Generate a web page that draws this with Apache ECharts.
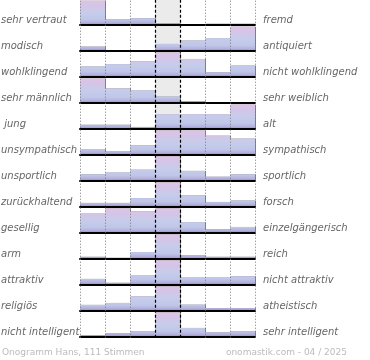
<!DOCTYPE html>
<html>
<head>
<meta charset="utf-8">
<script src="https://cdn.jsdelivr.net/npm/echarts@6/dist/echarts.min.js"></script>
<style>
html,body{margin:0;padding:0;background:#fff;}
#chart{width:370px;height:360px;}
</style>
</head>
<body>
<div id="chart"></div>
<script>
// ---- data ----
const columns = ['1', '2', '3', '4', '5', '6', '7'];
const leftLabels = ['sehr vertraut', 'modisch', 'wohlklingend', 'sehr männlich', ' jung', 'unsympathisch', 'unsportlich', 'zurückhaltend', 'gesellig', 'arm', 'attraktiv', 'religiös', 'nicht intelligent'];
const rightLabels = ['fremd', 'antiquiert', 'nicht wohlklingend', 'sehr weiblich', 'alt', 'sympathisch', 'sportlich', 'forsch', 'einzelgängerisch', 'reich', 'nicht attraktiv', 'atheistisch', 'sehr intelligent'];
const row01 = [1.00, 0.24, 0.28, 0.07, 0.01, 0.05, 0.05];
const row02 = [0.18, 0.00, 0.00, 0.29, 0.43, 0.53, 1.00];
const row03 = [0.43, 0.53, 0.65, 1.00, 0.74, 0.19, 0.47];
const row04 = [1.00, 0.60, 0.51, 0.26, 0.07, 0.02, 0.00];
const row05 = [0.17, 0.17, 0.08, 0.61, 0.61, 0.61, 1.00];
const row06 = [0.24, 0.14, 0.39, 1.00, 1.00, 0.79, 0.67];
const row07 = [0.27, 0.34, 0.46, 1.00, 0.41, 0.17, 0.27];
const row08 = [0.16, 0.16, 0.36, 1.00, 0.47, 0.20, 0.26];
const row09 = [0.79, 1.00, 0.88, 1.00, 0.44, 0.15, 0.24];
const row10 = [0.08, 0.04, 0.28, 1.00, 0.14, 0.08, 0.08];
const row11 = [0.24, 0.08, 0.40, 1.00, 0.32, 0.32, 0.35];
const row12 = [0.24, 0.32, 0.60, 1.00, 0.25, 0.11, 0.11];
const row13 = [0.06, 0.14, 0.22, 1.00, 0.36, 0.18, 0.22];
const rows = [row01, row02, row03, row04, row05, row06, row07, row08, row09, row10, row11, row12, row13];
const footerLeft = 'Onogramm Hans, 111 Stimmen';
const footerRight = 'onomastik.com - 04 / 2025';

// ---- layout / style ----
const PLOT_LEFT = 80, PLOT_W = 175;
const FIRST_BASE = 25, ROW_STEP = 25.975, BAR_H = 24.3;
const FONT = '"DejaVu Sans", Verdana, sans-serif';

const ramp = [
  [0.00, [152, 142, 198]],
  [0.10, [180, 178, 222]],
  [0.22, [192, 198, 232]],
  [0.50, [198, 204, 234]],
  [0.75, [210, 198, 232]],
  [1.00, [222, 194, 230]]
];
function colorAt(t) {
  for (let k = 1; k < ramp.length; k++) {
    if (t <= ramp[k][0]) {
      const a = ramp[k - 1], b = ramp[k];
      const f = (t - a[0]) / (b[0] - a[0]);
      const c = a[1].map((v, j) => Math.round(v + (b[1][j] - v) * f));
      return 'rgb(' + c.join(',') + ')';
    }
  }
  return 'rgb(' + ramp[ramp.length - 1][1].join(',') + ')';
}
function barColor(v) {
  if (v <= 0) return 'rgba(0,0,0,0)';
  const stops = [{ offset: 0, color: colorAt(v) }];
  for (let k = ramp.length - 1; k >= 0; k--) {
    const t = ramp[k][0];
    if (t < v) stops.push({ offset: 1 - t / v, color: colorAt(t) });
  }
  return new echarts.graphic.LinearGradient(0, 0, 0, 1, stops);
}

const grid = [], xAxis = [], yAxis = [], series = [], graphic = [];
rows.forEach((vals, i) => {
  const base = FIRST_BASE + ROW_STEP * i;
  grid.push({ left: PLOT_LEFT, width: PLOT_W, top: base - BAR_H, height: BAR_H });
  xAxis.push({
    type: 'category', gridIndex: i, data: columns, z: 6,
    axisLine: { show: true, lineStyle: { color: '#000', width: 2 } },
    axisTick: { show: false }, axisLabel: { show: false }, splitLine: { show: false }
  });
  yAxis.push({ type: 'value', gridIndex: i, min: 0, max: 1, show: false });
  series.push({
    type: 'bar', xAxisIndex: i, yAxisIndex: i, z: 2,
    barWidth: '100%', barCategoryGap: '0%',
    data: vals.map(v => ({
      value: v,
      itemStyle: {
        color: barColor(v),
        shadowColor: v > 0 ? 'rgba(90,90,90,0.75)' : 'rgba(0,0,0,0)',
        shadowOffsetX: 1, shadowOffsetY: 0, shadowBlur: 0
      }
    })),
    silent: true
  });
  graphic.push({
    type: 'text', x: 1, y: base - 4.5, silent: true,
    style: { text: leftLabels[i], fontFamily: FONT, fontSize: 10, fontStyle: 'italic', fill: '#666', align: 'left', verticalAlign: 'middle' }
  });
  graphic.push({
    type: 'text', x: 263, y: base - 4.5, silent: true,
    style: { text: rightLabels[i], fontFamily: FONT, fontSize: 10, fontStyle: 'italic', fill: '#666', align: 'left', verticalAlign: 'middle' }
  });
});

// full-height grid for the centre band and the vertical guide lines
const full = rows.length;
const lastBase = FIRST_BASE + ROW_STEP * (rows.length - 1);
grid.push({ left: PLOT_LEFT, width: PLOT_W, top: 0, height: lastBase + 1 });
xAxis.push({ type: 'value', gridIndex: full, min: 0, max: columns.length, show: false });
yAxis.push({ type: 'value', gridIndex: full, min: 0, max: 1, show: false });
const dotted = { color: '#777', width: 1, type: [1, 2] };
const dashed = { color: '#000', width: 1.2, type: [3, 2] };
series.push({
  type: 'line', xAxisIndex: full, yAxisIndex: full, data: [], z: 0, silent: true,
  markArea: { silent: true, z: 1, itemStyle: { color: '#ebebeb' }, data: [[{ xAxis: 3 }, { xAxis: 4 }]] }
});
series.push({
  type: 'line', xAxisIndex: full, yAxisIndex: full, data: [], z: 10, silent: true,
  markLine: {
    silent: true, z: 10, symbol: ['none', 'none'], label: { show: false },
    data: [
      { xAxis: 0, lineStyle: dotted }, { xAxis: 1, lineStyle: dotted }, { xAxis: 2, lineStyle: dotted },
      { xAxis: 3, lineStyle: dashed }, { xAxis: 4, lineStyle: dashed },
      { xAxis: 5, lineStyle: dotted }, { xAxis: 6, lineStyle: dotted }, { xAxis: 7, lineStyle: dotted }
    ]
  }
});

graphic.push({
  type: 'text', x: 2, y: 353, silent: true,
  style: { text: footerLeft, fontFamily: FONT, fontSize: 9, fill: '#bbb', align: 'left', verticalAlign: 'middle' }
});
graphic.push({
  type: 'text', x: 347, y: 353, silent: true,
  style: { text: footerRight, fontFamily: FONT, fontSize: 9, fill: '#bbb', align: 'right', verticalAlign: 'middle' }
});

const chart = echarts.init(document.getElementById('chart'), null, { renderer: 'canvas' });
chart.setOption({
  animation: false,
  backgroundColor: '#fff',
  grid, xAxis, yAxis, series, graphic
});
</script>
</body>
</html>
